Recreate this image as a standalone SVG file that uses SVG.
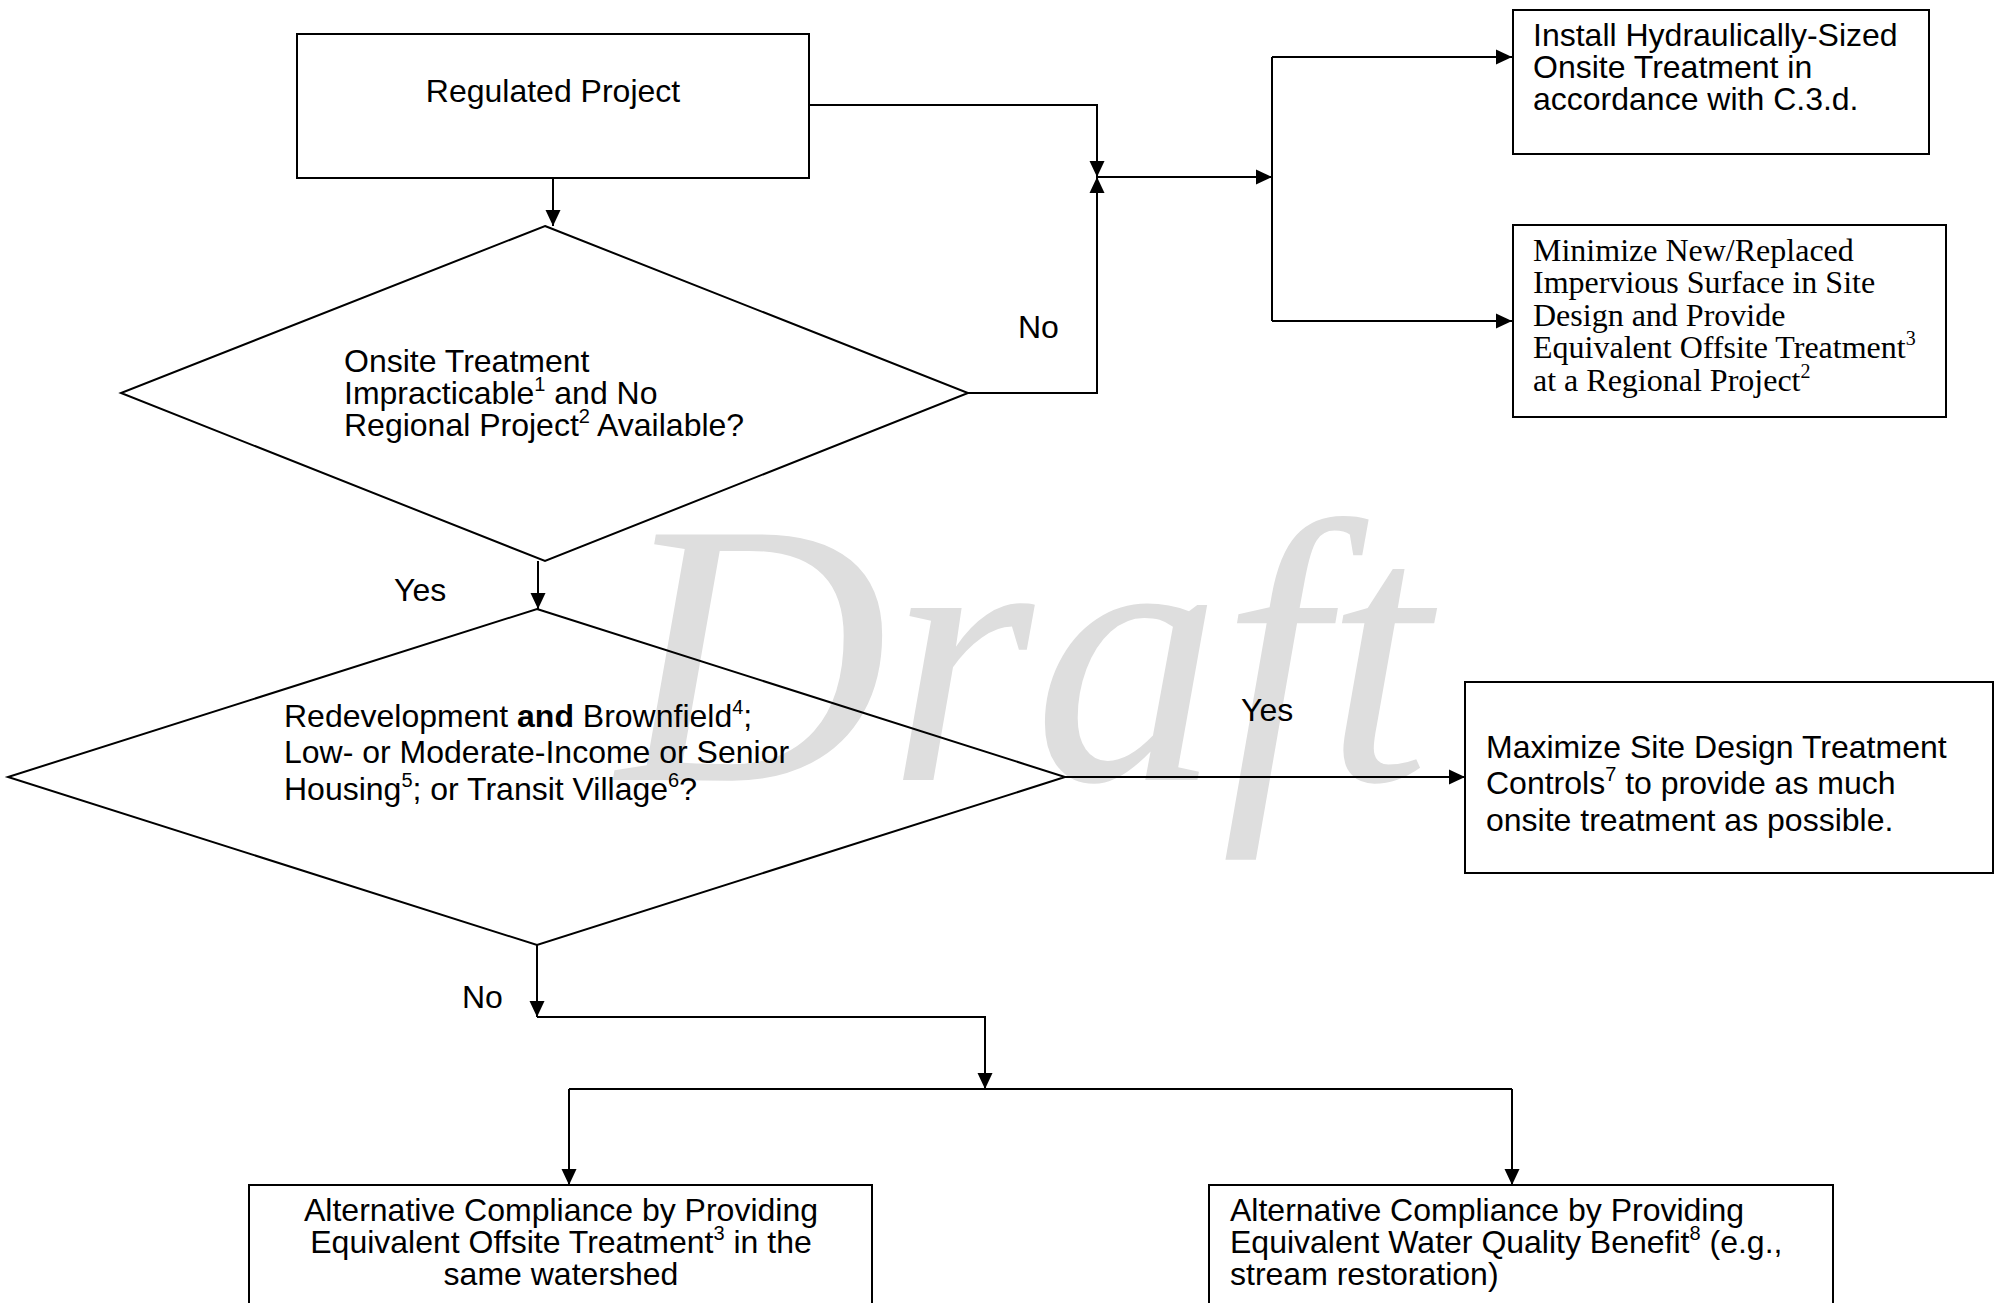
<svg xmlns="http://www.w3.org/2000/svg" width="2001" height="1303" viewBox="0 0 2001 1303">
<style>
  .shape { fill: none; stroke: #000; stroke-width: 2; }
  .conn { fill: none; stroke: #000; stroke-width: 2; }
  .sans { font-family: "Liberation Sans", Arial, sans-serif; font-size: 32px; fill: #000; }
  .serif { font-family: "Liberation Serif", "Times New Roman", serif; font-size: 32px; fill: #000; }
  .sup { font-size: 20px; }
  .wm { font-family: "Liberation Serif", "Times New Roman", serif; font-style: italic; font-size: 375px; fill: #dedede; }
</style>
<defs>
  <marker id="arr" markerUnits="userSpaceOnUse" markerWidth="16" markerHeight="16" viewBox="0 0 16 16" refX="16" refY="8" orient="auto">
    <path d="M0,0.5 L16,8 L0,15.5 Z" fill="#000"/>
  </marker>
</defs>
<rect width="2001" height="1303" fill="#fff"/>
<text class="wm" x="617" y="780">Draft</text>

<g id="connectors">
  <path class="conn" d="M553,178 V226" marker-end="url(#arr)"/>
  <path class="conn" d="M809,105 H1097 V177" marker-end="url(#arr)"/>
  <path class="conn" d="M968,393 H1097 V177" marker-end="url(#arr)"/>
  <path class="conn" d="M1097,177 H1272" marker-end="url(#arr)"/>
  <path class="conn" d="M1272,57 V321"/>
  <path class="conn" d="M1272,57 H1512" marker-end="url(#arr)"/>
  <path class="conn" d="M1272,321 H1512" marker-end="url(#arr)"/>
  <path class="conn" d="M538,561 V609" marker-end="url(#arr)"/>
  <path class="conn" d="M1065,777 H1465" marker-end="url(#arr)"/>
  <path class="conn" d="M537,945 V1017" marker-end="url(#arr)"/>
  <path class="conn" d="M537,1017 H985 V1089" marker-end="url(#arr)"/>
  <path class="conn" d="M569,1089 H1512"/>
  <path class="conn" d="M569,1089 V1185" marker-end="url(#arr)"/>
  <path class="conn" d="M1512,1089 V1185" marker-end="url(#arr)"/>
  <text class="sans" x="1018" y="338">No</text>
  <text class="sans" x="394" y="601">Yes</text>
  <text class="sans" x="1241" y="721">Yes</text>
  <text class="sans" x="462" y="1008">No</text>
</g>

<g id="regulated-project">
  <rect class="shape" x="297" y="34" width="512" height="144"/>
  <text class="sans" x="553" y="102" text-anchor="middle">Regulated Project</text>
</g>

<g id="decision-onsite">
  <polygon class="shape" points="545,226 968,393 545,561 121,393"/>
  <text class="sans" x="344" y="372">Onsite Treatment</text>
  <text class="sans" x="344" y="404">Impracticable<tspan class="sup" dy="-13">1</tspan><tspan dy="13"> and No</tspan></text>
  <text class="sans" x="344" y="436">Regional Project<tspan class="sup" dy="-13">2</tspan><tspan dy="13"> Available?</tspan></text>
</g>

<g id="install-onsite">
  <rect class="shape" x="1513" y="10" width="416" height="144"/>
  <text class="sans" x="1533" y="46">Install Hydraulically-Sized</text>
  <text class="sans" x="1533" y="78">Onsite Treatment in</text>
  <text class="sans" x="1533" y="110">accordance with C.3.d.</text>
</g>

<g id="minimize-offsite">
  <rect class="shape" x="1513" y="225" width="433" height="192"/>
  <text class="serif" x="1533" y="261">Minimize New/Replaced</text>
  <text class="serif" x="1533" y="293">Impervious Surface in Site</text>
  <text class="serif" x="1533" y="326">Design and Provide</text>
  <text class="serif" x="1533" y="358">Equivalent Offsite Treatment<tspan class="sup" dy="-13">3</tspan></text>
  <text class="serif" x="1533" y="391">at a Regional Project<tspan class="sup" dy="-13">2</tspan></text>
</g>

<g id="decision-special">
  <polygon class="shape" points="537,609 1065,777 537,945 8,777"/>
  <text class="sans" x="284" y="727">Redevelopment <tspan font-weight="bold">and</tspan> Brownfield<tspan class="sup" dy="-13">4</tspan><tspan dy="13">;</tspan></text>
  <text class="sans" x="284" y="763">Low- or Moderate-Income or Senior</text>
  <text class="sans" x="284" y="800">Housing<tspan class="sup" dy="-13">5</tspan><tspan dy="13">; or Transit Village</tspan><tspan class="sup" dy="-13">6</tspan><tspan dy="13">?</tspan></text>
</g>

<g id="maximize-site-design">
  <rect class="shape" x="1465" y="682" width="528" height="191"/>
  <text class="sans" x="1486" y="758">Maximize Site Design Treatment</text>
  <text class="sans" x="1486" y="794">Controls<tspan class="sup" dy="-13">7</tspan><tspan dy="13"> to provide as much</tspan></text>
  <text class="sans" x="1486" y="831">onsite treatment as possible.</text>
</g>

<g id="alt-offsite">
  <rect class="shape" x="249" y="1185" width="623" height="140"/>
  <text class="sans" x="561" y="1221" text-anchor="middle">Alternative Compliance by Providing</text>
  <text class="sans" x="561" y="1253" text-anchor="middle">Equivalent Offsite Treatment<tspan class="sup" dy="-13">3</tspan><tspan dy="13"> in the</tspan></text>
  <text class="sans" x="561" y="1285" text-anchor="middle">same watershed</text>
</g>

<g id="alt-water-quality">
  <rect class="shape" x="1209" y="1185" width="624" height="140"/>
  <text class="sans" x="1230" y="1221">Alternative Compliance by Providing</text>
  <text class="sans" x="1230" y="1253">Equivalent Water Quality Benefit<tspan class="sup" dy="-13">8</tspan><tspan dy="13"> (e.g.,</tspan></text>
  <text class="sans" x="1230" y="1285">stream restoration)</text>
</g>
</svg>
